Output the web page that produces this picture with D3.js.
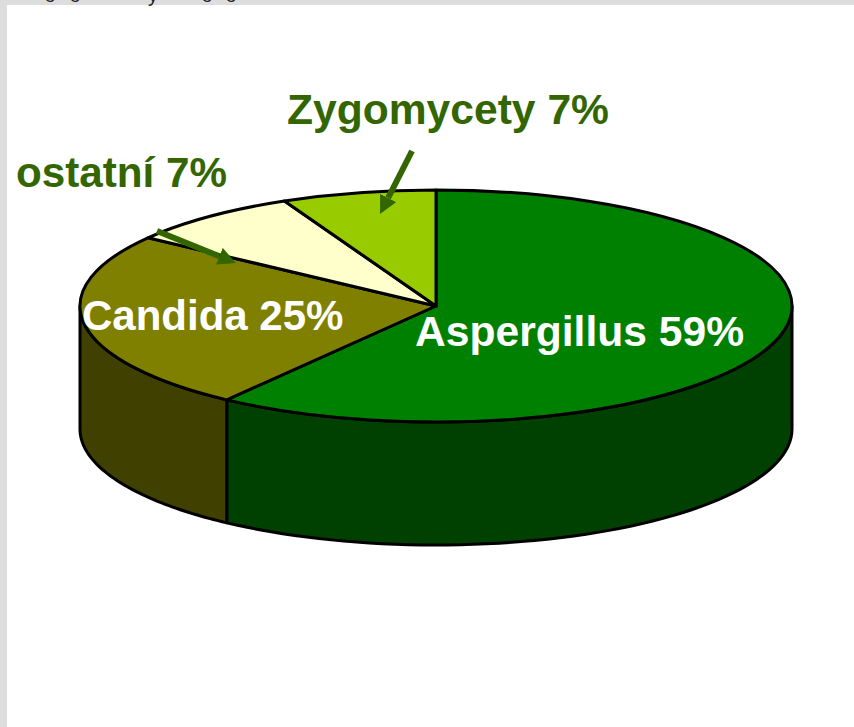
<!DOCTYPE html>
<html>
<head>
<meta charset="utf-8">
<script src="https://cdn.jsdelivr.net/npm/d3@7"></script>
<style>
  html, body { margin: 0; padding: 0; background: #fff; }
  text { font-family: "Liberation Sans", Arial, sans-serif; font-weight: bold; }
</style>
</head>
<body>
<div id="chart"></div>
<script>
// Slices, clockwise from twelve o'clock
const categories = ["Aspergillus", "Candida", "ostatní", "Zygomycety"];
const percents = [59, 25, 7, 7];      // as printed on the labels
const sliceShares = [60, 25, 8, 7];
const topColors = ["#008000", "#808000", "#ffffcc", "#99cc00"];
const sideColors = ["#004000", "#404000", "#666633", "#4d6600"];

// Bottoms of the cut off line of text above the slide
const cutLetters = ["o", "o", "y", "o", "o"];
const cutLetterX = [50, 75, 153, 207, 231];

const width = 854, height = 727;

// Centre and radii of the tilted pie
const cx = 436, cy = 306, rx = 356, ry = 116, depth = 123;

const svg = d3.select("#chart")
  .append("svg")
  .attr("width", width)
  .attr("height", height)
  .style("display", "block");

// Grey slide background showing at the top and left edge
svg.append("rect").attr("width", width).attr("height", height).attr("fill", "#dddddd");
svg.append("rect").attr("x", 7).attr("y", 5).attr("width", width - 7).attr("height", height - 5).attr("fill", "#ffffff");

svg.selectAll("text.cut")
  .data(cutLetters)
  .enter()
  .append("text")
  .attr("class", "cut")
  .attr("x", (d, i) => cutLetterX[i])
  .attr("y", 2)
  .attr("text-anchor", "middle")
  .attr("font-size", 20)
  .attr("fill", "#222")
  .style("font-weight", "normal")
  .text(d => d);

const pie = d3.pie().sort(null).value(d => d.value);
const slices = pie(categories.map((name, i) => ({ name, value: sliceShares[i], i })));

// Point on the top ellipse, angle measured clockwise from twelve o'clock
const px = a => cx + rx * Math.sin(a);
const py = a => cy - ry * Math.cos(a);

// Side walls: only the front half of the rim (90deg to 270deg) can be seen
const wall = d3.line();
const rim = (a0, a1) => d3.range(0, 61).map(k => a0 + (a1 - a0) * k / 60);

slices.forEach(s => {
  const a0 = Math.max(s.startAngle, Math.PI / 2);
  const a1 = Math.min(s.endAngle, Math.PI * 1.5);
  if (a1 <= a0) return;
  const upper = rim(a0, a1).map(a => [px(a), py(a)]);
  const lower = rim(a1, a0).map(a => [px(a), py(a) + depth]);
  svg.append("path")
    .attr("d", wall(upper.concat(lower)) + "Z")
    .attr("fill", sideColors[s.data.i])
    .attr("stroke", "#000")
    .attr("stroke-width", 3)
    .attr("stroke-linejoin", "round");
});

// Top face: normal pie squashed vertically, stroke kept even
const arc = d3.arc().innerRadius(0).outerRadius(rx);
svg.append("g")
  .attr("transform", `translate(${cx},${cy}) scale(1,${ry / rx})`)
  .selectAll("path")
  .data(slices)
  .enter()
  .append("path")
  .attr("d", arc)
  .attr("fill", d => topColors[d.data.i])
  .attr("stroke", "#000")
  .attr("stroke-width", 3)
  .attr("stroke-linejoin", "round")
  .attr("vector-effect", "non-scaling-stroke");

// Leader arrows
const leaderColor = "#336600";
const headLength = 18, headWidth = 18;
svg.append("defs").append("marker")
  .attr("id", "head")
  .attr("viewBox", "0 0 10 10")
  .attr("refX", 0)
  .attr("refY", 5)
  .attr("markerUnits", "userSpaceOnUse")
  .attr("markerWidth", headLength)
  .attr("markerHeight", headWidth)
  .attr("preserveAspectRatio", "none")
  .attr("orient", "auto")
  .append("path")
  .attr("d", "M0,0L10,5L0,10Z")
  .attr("fill", leaderColor);

const arrows = [
  [[412, 151], [380, 214]],
  [[157, 231], [236, 263]]
];
// stem stops where the head starts, so the tip lands on the given end point
const stemEnd = d => {
  const len = Math.hypot(d[1][0] - d[0][0], d[1][1] - d[0][1]);
  return d3.interpolate(d[1], d[0])(headLength / len);
};
svg.selectAll("line.leader")
  .data(arrows)
  .enter()
  .append("line")
  .attr("class", "leader")
  .attr("x1", d => d[0][0])
  .attr("y1", d => d[0][1])
  .attr("x2", d => stemEnd(d)[0])
  .attr("y2", d => stemEnd(d)[1])
  .attr("stroke", leaderColor)
  .attr("stroke-width", 6)
  .attr("marker-end", "url(#head)");

// Labels
const labels = [
  { i: 3, x: 287, y: 124, size: 42.6, fill: "#336600" },
  { i: 2, x: 16, y: 187, size: 42.2, fill: "#336600" },
  { i: 1, x: 82, y: 330, size: 42, fill: "#ffffff" },
  { i: 0, x: 415, y: 346, size: 42.6, fill: "#ffffff" }
];
svg.selectAll("text.label")
  .data(labels)
  .enter()
  .append("text")
  .attr("class", "label")
  .attr("x", d => d.x)
  .attr("y", d => d.y)
  .attr("fill", d => d.fill)
  .attr("font-size", d => d.size)
  .text(d => `${categories[d.i]} ${percents[d.i]}%`);
</script>
</body>
</html>
